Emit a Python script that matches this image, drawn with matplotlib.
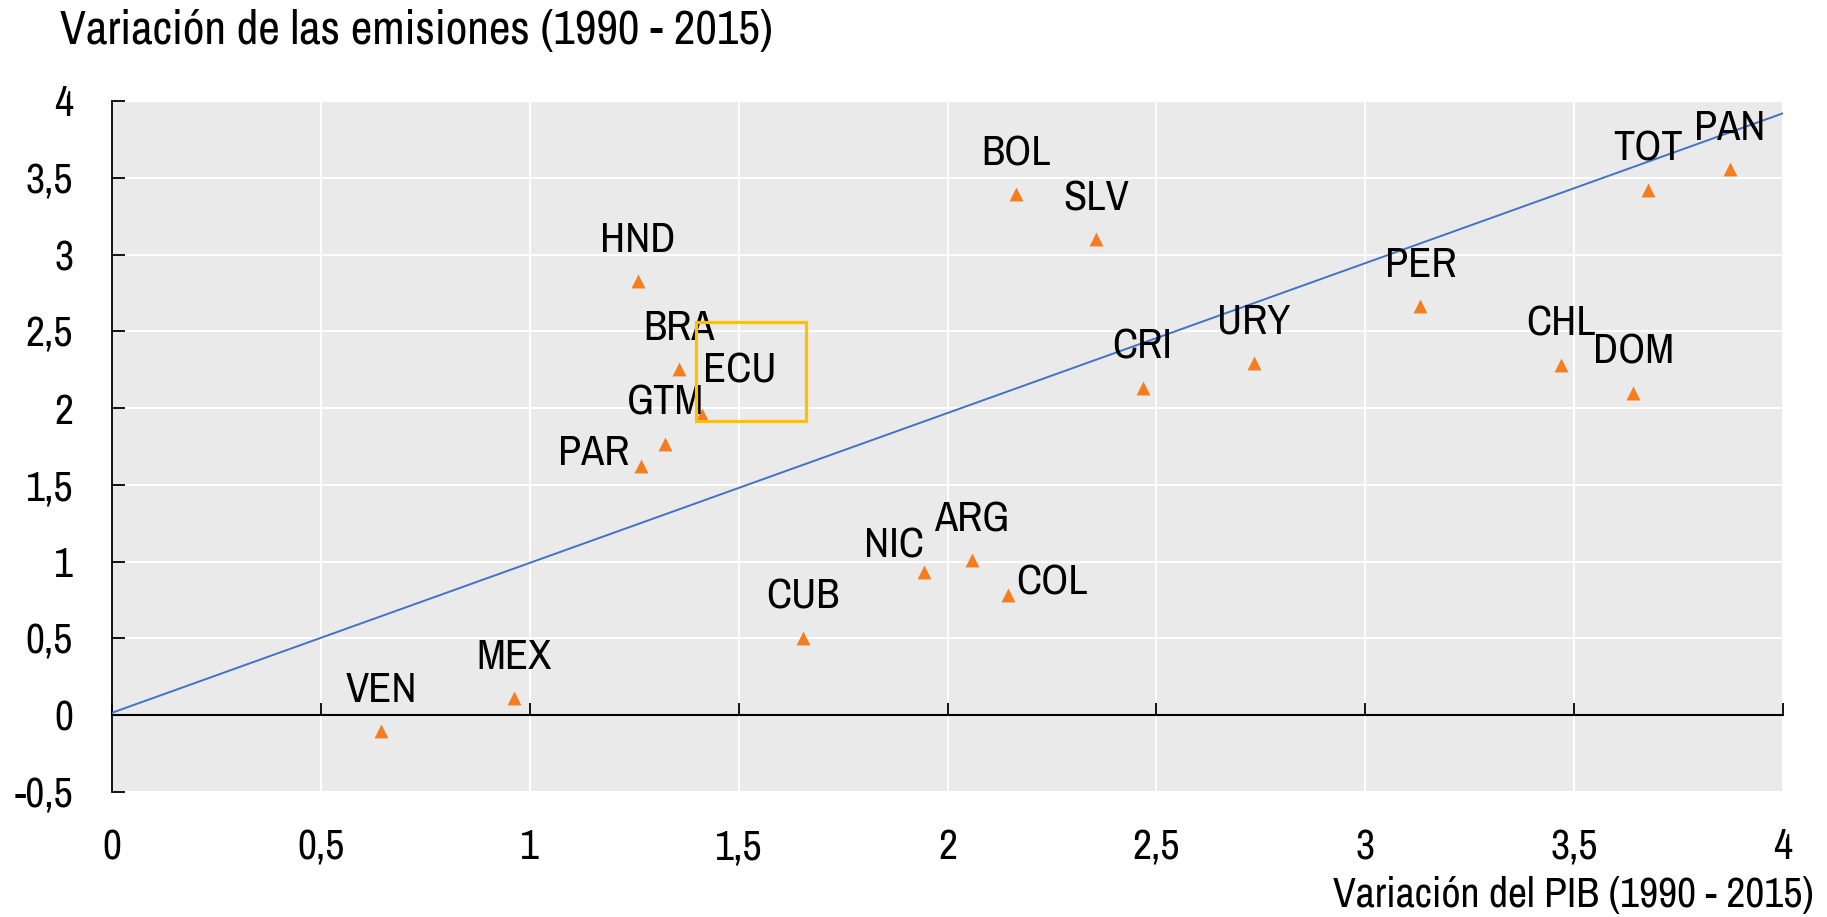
import numpy as np
import matplotlib
matplotlib.use('Agg')
import matplotlib.pyplot as plt
from matplotlib import font_manager
from matplotlib.patches import Rectangle

# look for a narrow sans face (Arial Narrow look), otherwise Liberation Sans
names = sorted({f.name for f in font_manager.fontManager.ttflist})
narrow = [n for n in names if 'Narrow' in n] + [n for n in names if 'Condensed' in n]
if narrow:
    family, scale = narrow[0], 1.0
else:
    family, scale = 'Liberation Sans', 0.88
plt.rcParams['font.family'] = [family, 'DejaVu Sans']

# data
countries = ['VEN', 'MEX', 'HND', 'BRA', 'ECU', 'GTM', 'PAR', 'CUB', 'NIC', 'ARG',
             'COL', 'BOL', 'SLV', 'CRI', 'URY', 'PER', 'CHL', 'DOM', 'TOT', 'PAN']
pib = [0.644, 0.962, 1.258, 1.358, 1.412, 1.324, 1.266, 1.654, 1.944, 2.058,
       2.146, 2.163, 2.355, 2.467, 2.733, 3.132, 3.468, 3.642, 3.676, 3.872]
emisiones = [-0.10, 0.11, 2.83, 2.254, 1.958, 1.767, 1.626, 0.504, 0.932, 1.008,
             0.78, 3.393, 3.10, 2.134, 2.295, 2.666, 2.284, 2.101, 3.421, 3.556]
trend_x = [0, 4]
trend_y = [0.016, 3.92]
xticks = [0, 0.5, 1, 1.5, 2, 2.5, 3, 3.5, 4]
yticks = [-0.5, 0, 0.5, 1, 1.5, 2, 2.5, 3, 3.5, 4]

# label offsets in pixels (default: centred above the point)
offsets = {'PAR': (-47, 13), 'NIC': (-30, 27), 'COL': (44, 13), 'ECU': (38, 44)}

fig = plt.figure(figsize=(18.27, 9.17), dpi=100)
ax = fig.add_axes([112/1827, 125/917, 1671/1827, 691/917])
ax.set_facecolor('#eaeaea')
ax.set_xlim(0, 4)
ax.set_ylim(-0.5, 4)

fmt = lambda v: ('%g' % v).replace('.', ',')
ax.set_yticks(yticks)
ax.set_yticklabels([fmt(v) for v in yticks])
ax.tick_params(axis='y', direction='in', length=9, width=1.3, pad=28,
               labelsize=30*scale)

# bottom spine sits on the zero line, ticks pointing up, no labels
ax.set_xticks(xticks)
ax.spines['bottom'].set_position(('data', 0))
ax.spines['bottom'].set_linewidth(1.5)
ax.tick_params(axis='x', direction='in', length=9, width=1.3, labelbottom=False)
for s in ['top', 'right']:
    ax.spines[s].set_visible(False)
ax.spines['left'].set_linewidth(1.3)

# x tick labels under the plot area
sec = ax.secondary_xaxis('bottom')
sec.set_xticks(xticks)
sec.set_xticklabels([fmt(v) for v in xticks])
sec.tick_params(length=0, pad=26, labelsize=30*scale)
sec.spines['bottom'].set_visible(False)

ax.grid(True, color='white', lw=1.4)
ax.set_axisbelow(True)

ax.plot(trend_x, trend_y, color='#4472c4', lw=1.4, zorder=3)
ax.scatter(pib, emisiones, marker='^', s=100, color='#f47d20', zorder=4, linewidths=0)

for c, x, y in zip(countries, pib, emisiones):
    dx, dy = offsets.get(c, (0, 41))
    ax.annotate(c, (x, y), xytext=(dx, dy), textcoords='offset pixels',
                ha='center', va='center', fontsize=30.5*scale, zorder=5)

ax.add_patch(Rectangle((1.397, 1.914), 0.265, 0.644, fill=False,
                       edgecolor='#ffc000', lw=2.3, zorder=6))

fig.text(60/1827, 1 - 31/917, 'Variación de las emisiones (1990 - 2015)',
         ha='left', va='center', fontsize=34*scale)
fig.text(1814/1827, 1 - 895/917, 'Variación del PIB (1990 - 2015)',
         ha='right', va='center', fontsize=30*scale)

fig.savefig('out.png', dpi=100)
